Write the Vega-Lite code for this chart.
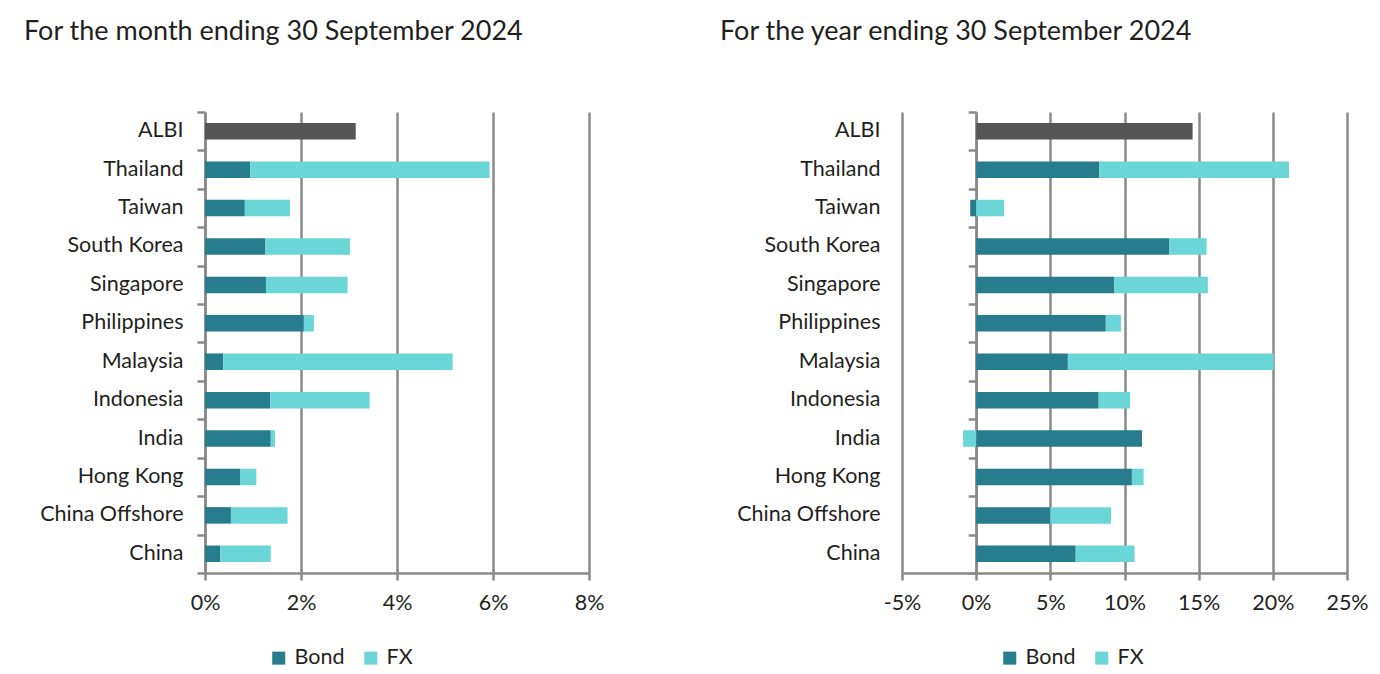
{
  "$schema": "https://vega.github.io/schema/vega-lite/v6.json",
  "background": "white",
  "padding": {"left": 24, "top": 17, "right": 10, "bottom": 5},
  "config": {
    "font": "Lato",
    "view": {"stroke": null},
    "title": {"fontSize": 27, "fontWeight": "normal", "color": "#231f20", "anchor": "start", "frame": "group", "font": "Lato"},
    "axis": {"labelFont": "Lato", "labelFontSize": 21.5, "labelColor": "#231f20", "domainColor": "#8a8a8a", "domainWidth": 2.5, "tickColor": "#8a8a8a", "tickWidth": 2.5, "gridColor": "#8a8a8a", "gridWidth": 2.5, "title": null, "labelFlush": false},
    "legend": {"symbolType": "square", "symbolSize": 170, "symbolStrokeWidth": 0, "labelFont": "Lato", "labelFontSize": 21.5, "labelColor": "#231f20", "columnPadding": 15, "labelOffset": 5, "padding": 0, "title": null}
  },
  "datasets": {
    "month": [
      {"country": "ALBI", "component": "ALBI", "value": 3.14},
      {"country": "Thailand", "component": "Bond", "value": 0.94},
      {"country": "Thailand", "component": "FX", "value": 4.99},
      {"country": "Taiwan", "component": "Bond", "value": 0.83},
      {"country": "Taiwan", "component": "FX", "value": 0.94},
      {"country": "South Korea", "component": "Bond", "value": 1.26},
      {"country": "South Korea", "component": "FX", "value": 1.76},
      {"country": "Singapore", "component": "Bond", "value": 1.27},
      {"country": "Singapore", "component": "FX", "value": 1.70},
      {"country": "Philippines", "component": "Bond", "value": 2.06},
      {"country": "Philippines", "component": "FX", "value": 0.21},
      {"country": "Malaysia", "component": "Bond", "value": 0.38},
      {"country": "Malaysia", "component": "FX", "value": 4.78},
      {"country": "Indonesia", "component": "Bond", "value": 1.36},
      {"country": "Indonesia", "component": "FX", "value": 2.07},
      {"country": "India", "component": "Bond", "value": 1.37},
      {"country": "India", "component": "FX", "value": 0.09},
      {"country": "Hong Kong", "component": "Bond", "value": 0.73},
      {"country": "Hong Kong", "component": "FX", "value": 0.34},
      {"country": "China Offshore", "component": "Bond", "value": 0.54},
      {"country": "China Offshore", "component": "FX", "value": 1.18},
      {"country": "China", "component": "Bond", "value": 0.32},
      {"country": "China", "component": "FX", "value": 1.05}
    ],
    "year": [
      {"country": "ALBI", "component": "ALBI", "value": 14.59},
      {"country": "Thailand", "component": "Bond", "value": 8.29},
      {"country": "Thailand", "component": "FX", "value": 12.8},
      {"country": "Taiwan", "component": "Bond", "value": -0.4},
      {"country": "Taiwan", "component": "FX", "value": 1.88},
      {"country": "South Korea", "component": "Bond", "value": 13.03},
      {"country": "South Korea", "component": "FX", "value": 2.5},
      {"country": "Singapore", "component": "Bond", "value": 9.32},
      {"country": "Singapore", "component": "FX", "value": 6.3},
      {"country": "Philippines", "component": "Bond", "value": 8.74},
      {"country": "Philippines", "component": "FX", "value": 1.02},
      {"country": "Malaysia", "component": "Bond", "value": 6.18},
      {"country": "Malaysia", "component": "FX", "value": 13.88},
      {"country": "Indonesia", "component": "Bond", "value": 8.26},
      {"country": "Indonesia", "component": "FX", "value": 2.12},
      {"country": "India", "component": "Bond", "value": 11.18},
      {"country": "India", "component": "FX", "value": -0.88},
      {"country": "Hong Kong", "component": "Bond", "value": 10.5},
      {"country": "Hong Kong", "component": "FX", "value": 0.79},
      {"country": "China Offshore", "component": "Bond", "value": 5.0},
      {"country": "China Offshore", "component": "FX", "value": 4.09},
      {"country": "China", "component": "Bond", "value": 6.71},
      {"country": "China", "component": "FX", "value": 3.97}
    ]
  },
  "spacing": 116,
  "resolve": {"scale": {"color": "independent", "x": "independent"}, "legend": {"color": "independent"}},
  "hconcat": [
    {
      "width": 384,
      "height": 461,
      "title": {"text": "For the month ending 30 September 2024", "offset": 65, "dx": -181},
      "data": {"name": "month"},
      "layer": [
        {
          "mark": {"type": "bar", "size": 16.5},
          "encoding": {
            "y": {"field": "country", "type": "nominal", "sort": ["ALBI", "Thailand", "Taiwan", "South Korea", "Singapore", "Philippines", "Malaysia", "Indonesia", "India", "Hong Kong", "China Offshore", "China"], "scale": {"paddingInner": 0, "paddingOuter": 0}, "axis": {"domain": false, "ticks": false, "labelPadding": 22, "grid": false}},
            "x": {"field": "value", "type": "quantitative", "stack": "zero", "scale": {"domain": [0, 8], "nice": false}, "axis": {"values": [0, 2, 4, 6, 8], "grid": true, "labelExpr": "datum.value + '%'", "tickSize": 7, "labelPadding": 12}},
            "color": {"field": "component", "type": "nominal", "scale": {"domain": ["Bond", "FX", "ALBI"], "range": ["#277c8e", "#6bd6d8", "#555555"]}, "legend": {"values": ["Bond", "FX"], "orient": "none", "legendX": 63, "legendY": 535, "direction": "horizontal"}},
            "order": {"field": "component", "sort": "ascending"}
          }
        },
        {
          "mark": {"type": "bar", "size": 16.5, "opacity": 0},
          "encoding": {
            "y": {"field": "country", "type": "nominal", "sort": ["ALBI", "Thailand", "Taiwan", "South Korea", "Singapore", "Philippines", "Malaysia", "Indonesia", "India", "Hong Kong", "China Offshore", "China"], "axis": {"orient": "left", "labels": false, "domain": true, "ticks": true, "tickBand": "extent", "tickSize": 8, "offset": 0, "grid": false}},
            "x": {"field": "value", "type": "quantitative", "stack": "zero"}
          }
        }
      ],
      "resolve": {"axis": {"y": "independent"}}
    },
    {
      "width": 445,
      "height": 461,
      "title": {"text": "For the year ending 30 September 2024", "offset": 65, "dx": -182},
      "data": {"name": "year"},
      "layer": [
        {
          "mark": {"type": "bar", "size": 16.5},
          "encoding": {
            "y": {"field": "country", "type": "nominal", "sort": ["ALBI", "Thailand", "Taiwan", "South Korea", "Singapore", "Philippines", "Malaysia", "Indonesia", "India", "Hong Kong", "China Offshore", "China"], "scale": {"paddingInner": 0, "paddingOuter": 0}, "axis": {"domain": false, "ticks": false, "labelPadding": 22, "grid": false}},
            "x": {"field": "value", "type": "quantitative", "stack": "zero", "scale": {"domain": [-5, 25], "nice": false}, "axis": {"values": [-5, 0, 5, 10, 15, 20, 25], "grid": true, "labelExpr": "datum.value + '%'", "tickSize": 7, "labelPadding": 12}},
            "color": {"field": "component", "type": "nominal", "scale": {"domain": ["Bond", "FX", "ALBI"], "range": ["#277c8e", "#6bd6d8", "#555555"]}, "legend": {"values": ["Bond", "FX"], "orient": "none", "legendX": 97, "legendY": 535, "direction": "horizontal"}},
            "order": {"field": "component", "sort": "ascending"}
          }
        },
        {
          "mark": {"type": "bar", "size": 16.5, "opacity": 0},
          "encoding": {
            "y": {"field": "country", "type": "nominal", "sort": ["ALBI", "Thailand", "Taiwan", "South Korea", "Singapore", "Philippines", "Malaysia", "Indonesia", "India", "Hong Kong", "China Offshore", "China"], "axis": {"orient": "left", "labels": false, "domain": true, "ticks": true, "tickBand": "extent", "tickSize": 8, "offset": -74.2, "grid": false}},
            "x": {"field": "value", "type": "quantitative", "stack": "zero"}
          }
        }
      ],
      "resolve": {"axis": {"y": "independent"}}
    }
  ]
}
